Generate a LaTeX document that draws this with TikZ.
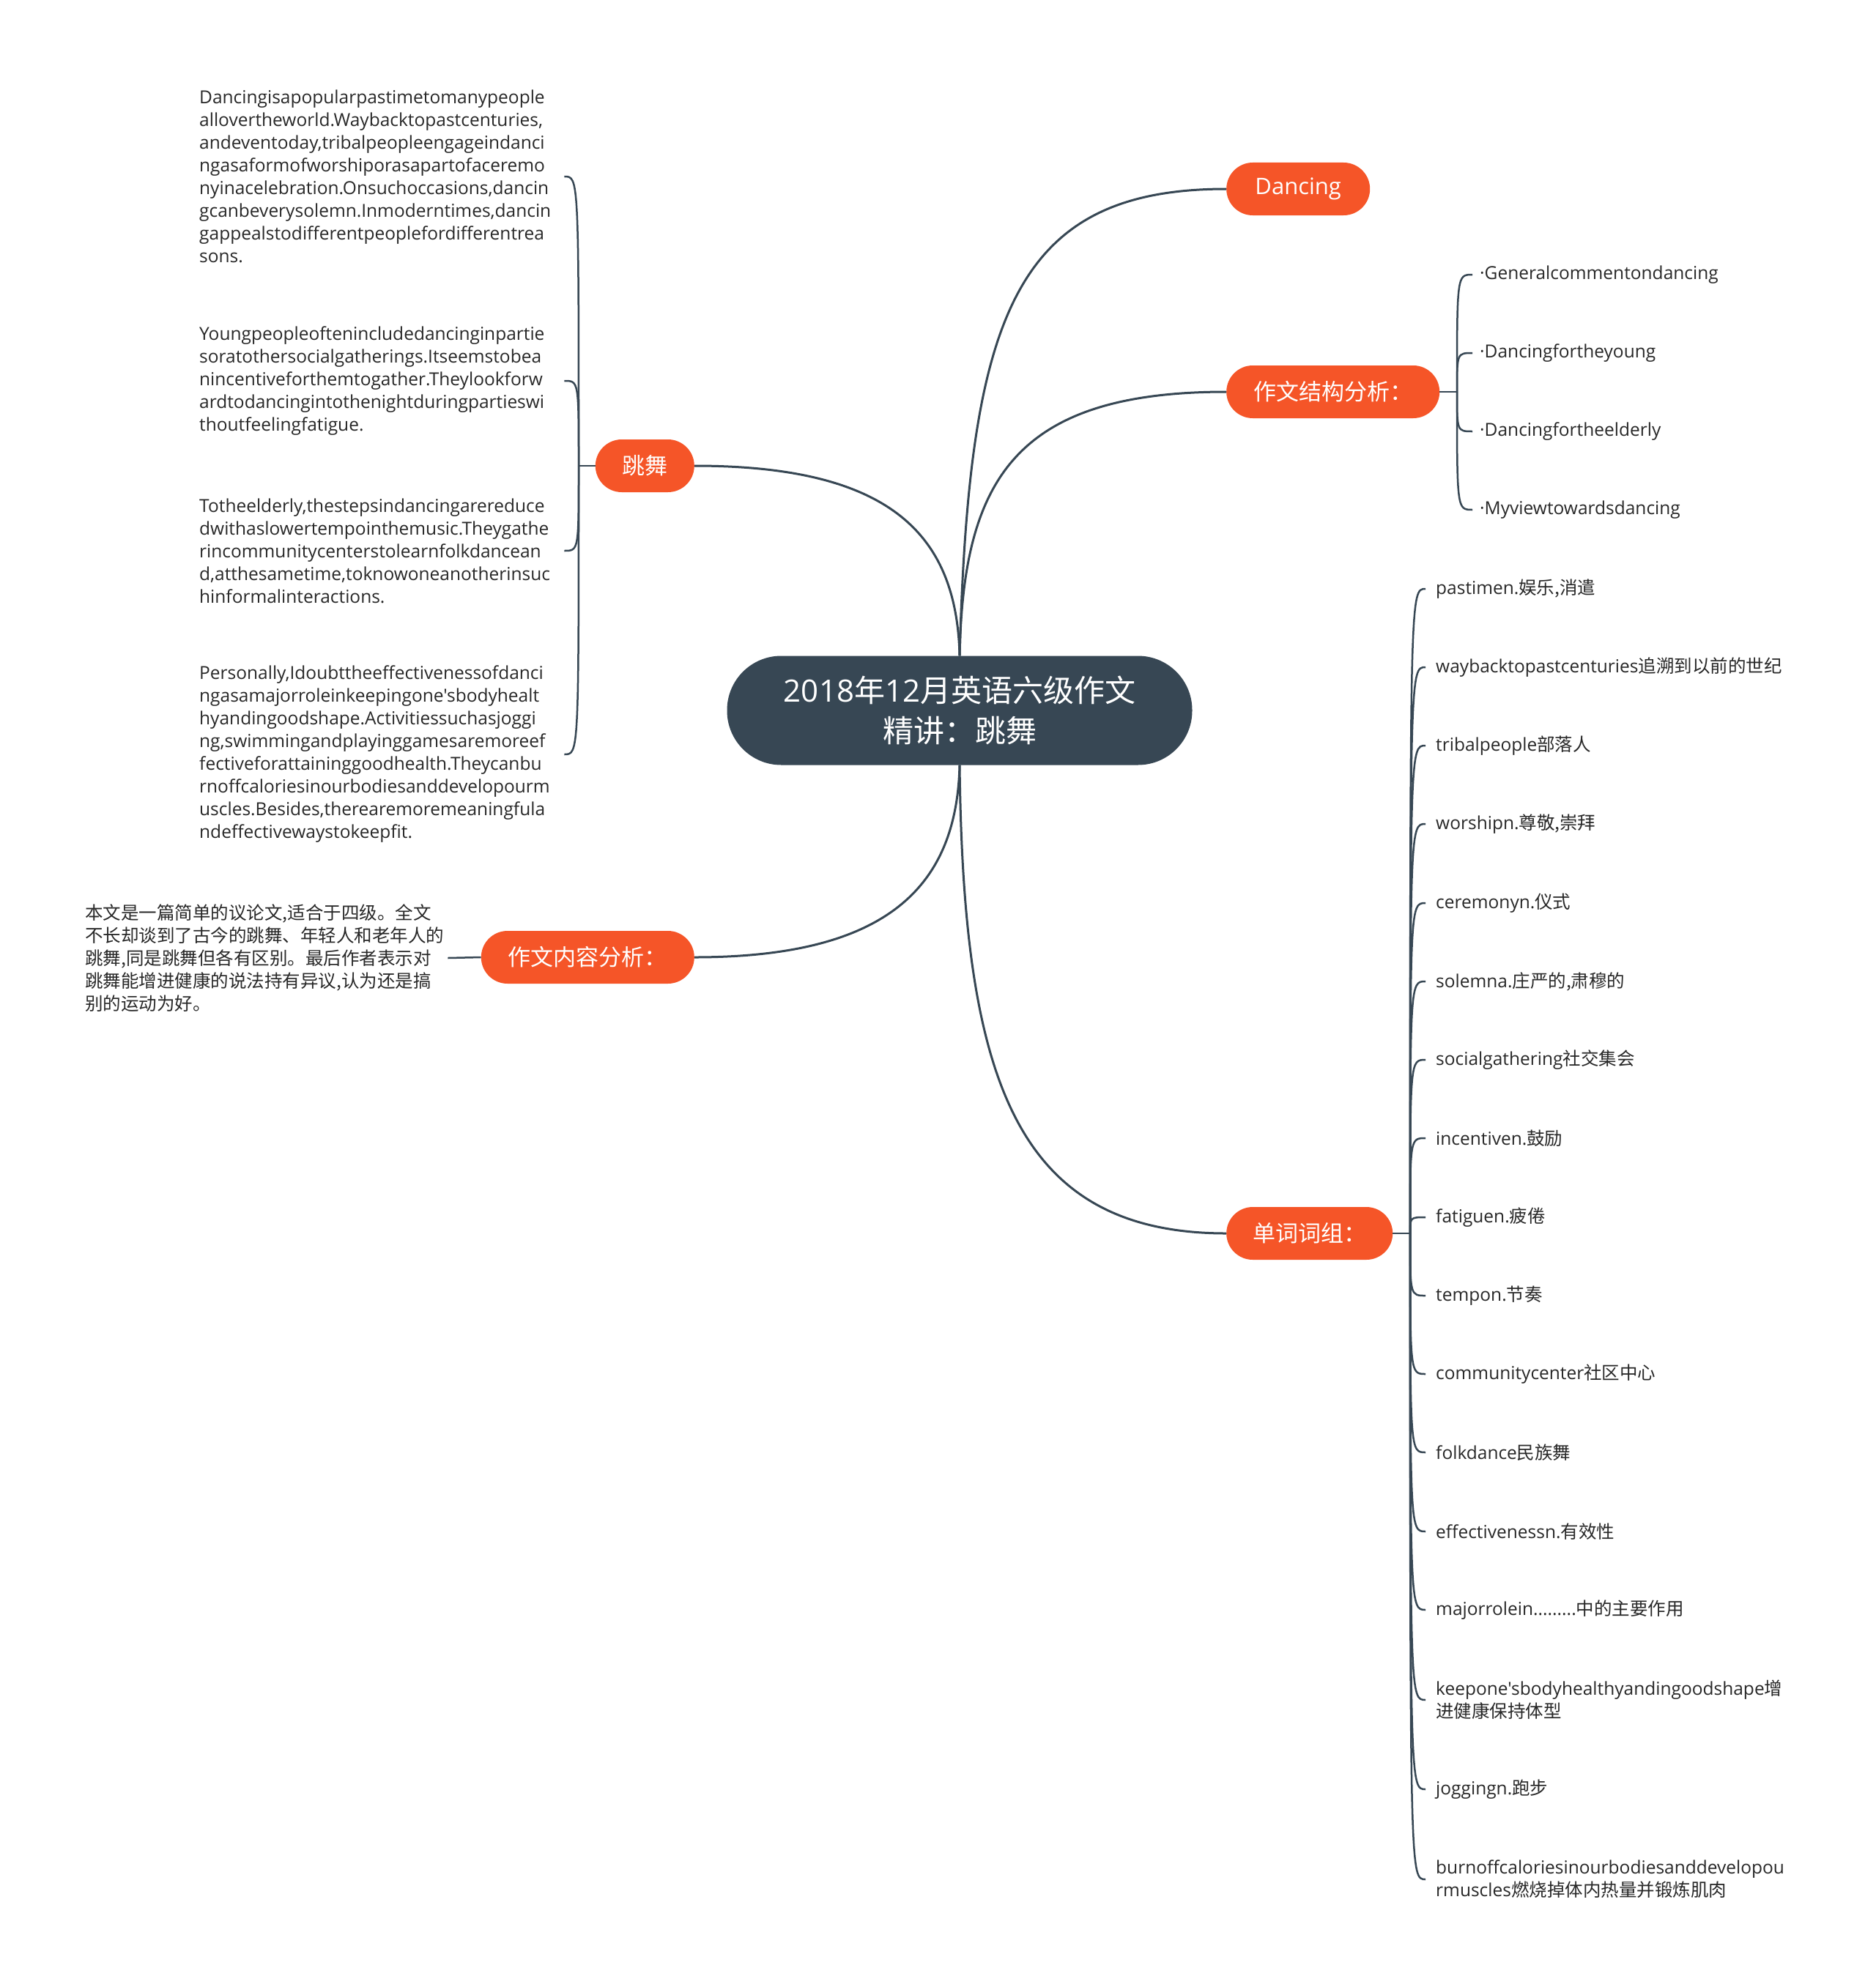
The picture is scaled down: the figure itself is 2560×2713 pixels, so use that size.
\documentclass[tikz,border=0pt]{standalone}
\usepackage{fontspec}
\setmainfont{Open Sans}[Ligatures=TeXOff]
\newfontfamily\cjk{Noto Sans CJK SC}
\usetikzlibrary{calc}
\definecolor{orng}{RGB}{245,85,40}
\definecolor{slate}{RGB}{55,71,84}
\definecolor{ink}{RGB}{40,40,40}
\hyphenpenalty=10000 \exhyphenpenalty=10000
\tikzset{
  topic/.style={fill=orng, text=white, rounded corners=36pt, minimum height=72pt,
    inner sep=0pt, font=\fontsize{31}{37}\selectfont},
  leaf/.style={inner xsep=14pt, inner ysep=0pt, anchor=west, align=left,
    font=\fontsize{24.5}{31}\selectfont, text=ink},
  para/.style={inner sep=0pt, anchor=west, align=left, text width=498pt,
    font=\fontsize{24.5}{31}\selectfont, text=ink},
  link/.style={draw=slate, line width=3pt},
  twig/.style={draw=slate, line width=2.5pt},
}
\begin{document}
\begin{tikzpicture}[x=1pt,y=-1pt]
\fill[white] (0,0) rectangle (2560,2713);
\useasboundingbox (0,0) rectangle (2560,2713);

% central node
\node[fill=slate, text=white, rounded corners=74pt, minimum width=635pt,
  minimum height=149pt, inner sep=0pt, align=center,
  font=\fontsize{42}{55}\selectfont] (c) at (1310,970)
  {2018{\cjk 年}12{\cjk 月英语六级作文}\\{\cjk 精讲：跳舞}};

% main topics
\node[topic, anchor=west, minimum width=196pt] (dn) at (1674,258) {Dancing};
\node[topic, anchor=west, minimum width=291pt] (jg) at (1674,535) {\cjk 作文结构分析：};
\node[topic, anchor=west, minimum width=227pt] (dc) at (1674,1684) {\cjk 单词词组：};
\node[topic, anchor=east, minimum width=135pt] (tw) at (948,636) {\cjk 跳舞};
\node[topic, anchor=east, minimum width=291pt] (nr) at (948,1307) {\cjk 作文内容分析：};

% main connectors
\draw[link] (c.north) .. controls (1323,432) and (1384,258) .. (dn.west);
\draw[link] (c.north) .. controls (1315,657) and (1384,535) .. (jg.west);
\draw[link] (c.south) .. controls (1315,1470) and (1384,1684) .. (dc.west);
\draw[link] (c.north) .. controls (1306,726) and (1211,636) .. (tw.east);
\draw[link] (c.south) .. controls (1306,1211) and (1211,1307) .. (nr.east);

% structure items
\coordinate (jA) at (1989,535);
\draw[twig] (jg.east) -- (jA);
\node[leaf, inner xsep=10pt] (s1) at (2010,375) {·Generalcommentondancing};
\node[leaf, inner xsep=10pt] (s2) at (2010,482) {·Dancingfortheyoung};
\node[leaf, inner xsep=10pt] (s3) at (2010,589) {·Dancingfortheelderly};
\node[leaf, inner xsep=10pt] (s4) at (2010,696) {·Myviewtowardsdancing};
\foreach \n in {s1,s2,s3,s4}
  \draw[twig] (jA) .. controls (jA |- \n.west) and (jA |- \n.west) .. (\n.west);

% vocabulary items
\coordinate (jB) at (1925,1684);
\draw[twig] (dc.east) -- (jB);
\node[leaf] (w1) at (1946,804) {pastimen.{\cjk 娱乐,消遣}};
\node[leaf] (w2) at (1946,911) {waybacktopastcenturies{\cjk 追溯到以前的世纪}};
\node[leaf] (w3) at (1946,1018) {tribalpeople{\cjk 部落人}};
\node[leaf] (w4) at (1946,1125) {worshipn.{\cjk 尊敬,崇拜}};
\node[leaf] (w5) at (1946,1233) {ceremonyn.{\cjk 仪式}};
\node[leaf] (w6) at (1946,1340) {solemna.{\cjk 庄严的,肃穆的}};
\node[leaf] (w7) at (1946,1447) {socialgathering{\cjk 社交集会}};
\node[leaf] (w8) at (1946,1554) {incentiven.{\cjk 鼓励}};
\node[leaf] (w9) at (1946,1662) {fatiguen.{\cjk 疲倦}};
\node[leaf] (w10) at (1946,1769) {tempon.{\cjk 节奏}};
\node[leaf] (w11) at (1946,1876) {communitycenter{\cjk 社区中心}};
\node[leaf] (w12) at (1946,1983) {folkdance{\cjk 民族舞}};
\node[leaf] (w13) at (1946,2091) {effectivenessn.{\cjk 有效性}};
\node[leaf] (w14) at (1946,2198) {majorrolein.........{\cjk 中的主要作用}};
\node[leaf] (w15) at (1946,2321) {keepone'sbodyhealthyandingoodshape{\cjk 增}\\{\cjk 进健康保持体型}};
\node[leaf] (w16) at (1946,2443) {joggingn.{\cjk 跑步}};
\node[leaf] (w17) at (1946,2566) {burnoffcaloriesinourbodiesanddevelopou\\rmuscles{\cjk 燃烧掉体内热量并锻炼肌肉}};
\foreach \n in {w1,w2,w3,w4,w5,w6,w7,w8,w9,w10,w11,w12,w13,w14,w15,w16,w17}
  \draw[twig] (jB) .. controls (jB |- \n.west) and (jB |- \n.west) .. (\n.west);

% dancing paragraphs
\coordinate (jC) at (790,636);
\draw[twig] (tw.west) -- (jC);
\node[para] (p1) at (272,241) {Dancingisapopularpastimetomanypeople\\
allovertheworld.Waybacktopastcenturies,\\
andeventoday,tribalpeopleengageindanci\\
ngasaformofworshiporasapartofaceremo\\
nyinacelebration.Onsuchoccasions,dancin\\
gcanbeverysolemn.Inmoderntimes,dancin\\
gappealstodifferentpeoplefordifferentrea\\
sons.};
\node[para] (p2) at (272,520) {Youngpeopleoftenincludedancinginpartie\\
soratothersocialgatherings.Itseemstobea\\
nincentiveforthemtogather.Theylookforw\\
ardtodancingintothenightduringpartieswi\\
thoutfeelingfatigue.};
\node[para] (p3) at (272,752) {Totheelderly,thestepsindancingarereduce\\
dwithaslowertempointhemusic.Theygathe\\
rincommunitycenterstolearnfolkdancean\\
d,atthesametime,toknowoneanotherinsuc\\
hinformalinteractions.};
\node[para] (p4) at (272,1030) {Personally,Idoubttheeffectivenessofdanci\\
ngasamajorroleinkeepingone'sbodyhealt\\
hyandingoodshape.Activitiessuchasjoggi\\
ng,swimmingandplayinggamesaremoreef\\
fectiveforattaininggoodhealth.Theycanbu\\
rnoffcaloriesinourbodiesanddevelopourm\\
uscles.Besides,therearemoremeaningfula\\
ndeffectivewaystokeepfit.};
\foreach \n in {p1,p2,p3,p4}
  \draw[twig] (jC) .. controls (jC |- \n.east) and (jC |- \n.east) .. (\n.east);

% content analysis
\node[para, text width=495pt, font=\fontsize{24.5}{31}\selectfont\cjk] (nt) at (116,1308)
 {本文是一篇简单的议论文,适合于四级。全文\\
不长却谈到了古今的跳舞、年轻人和老年人的\\
跳舞,同是跳舞但各有区别。最后作者表示对\\
跳舞能增进健康的说法持有异议,认为还是搞\\
别的运动为好。};
\draw[twig] (nr.west) -- (nt.east);
\end{tikzpicture}
\end{document}
